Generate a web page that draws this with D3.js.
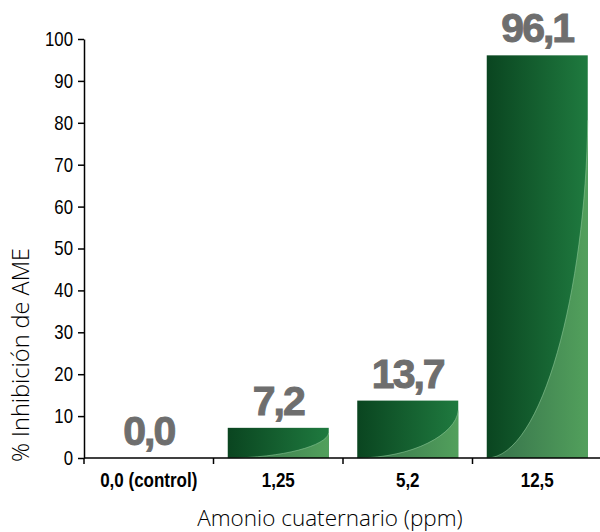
<!DOCTYPE html>
<html>
<head>
<meta charset="utf-8">
<script src="https://cdnjs.cloudflare.com/ajax/libs/d3/7.8.5/d3.min.js"></script>
<style>
  body { margin: 0; background: #fff; }
  svg { display: block; }
</style>
</head>
<body>
<div id="chart"></div>
<script>
var categories = ["0,0 (control)", "1,25", "5,2", "12,5"];
var values = [0.0, 7.2, 13.7, 96.1];
var valueLabels = ["0,0", "7,2", "13,7", "96,1"];
var yTicks = [0, 10, 20, 30, 40, 50, 60, 70, 80, 90, 100];

var svgWidth = 600;
var svgHeight = 532;

var svg = d3.select("#chart")
    .append("svg")
    .attr("width", svgWidth)
    .attr("height", svgHeight);

var x = d3.scaleBand()
    .domain(categories)
    .range([84, 602])
    .paddingInner(0.22)
    .paddingOuter(0.11);

var y = d3.scaleLinear()
    .domain([0, 100])
    .range([458, 39]);

var defs = svg.append("defs");

var dark = defs.append("linearGradient")
    .attr("id", "darkGrad")
    .attr("x1", "0%").attr("x2", "100%").attr("y1", "0%").attr("y2", "0%");
dark.append("stop").attr("offset", "0%").attr("stop-color", "#0a4520");
dark.append("stop").attr("offset", "100%").attr("stop-color", "#1f7a3f");

var light = defs.append("linearGradient")
    .attr("id", "lightGrad")
    .attr("x1", "0%").attr("x2", "100%").attr("y1", "0%").attr("y2", "0%");
light.append("stop").attr("offset", "0%").attr("stop-color", "#35704a");
light.append("stop").attr("offset", "100%").attr("stop-color", "#52a05c");

// bars (the 0,0 bar has no height so it is skipped)
var barData = values.map((v, i) => ({ cat: categories[i], value: v }))
    .filter(d => d.value > 0);

var bars = svg.append("g")
    .selectAll("g")
    .data(barData)
    .enter()
    .append("g");

bars.append("rect")
    .attr("x", d => x(d.cat))
    .attr("y", d => y(d.value))
    .attr("width", x.bandwidth())
    .attr("height", d => y(0) - y(d.value))
    .attr("fill", "url(#darkGrad)");

// lighter curved area at bottom right of each bar
function curveLine(d) {
    var x0 = x(d.cat);
    var x1 = x0 + x.bandwidth();
    var y0 = y(0);
    var h = y(0) - y(d.value);
    var yEnd = h < 40 ? y(d.value) + h * 0.17 : y(d.value) + Math.min(h * 0.17, 65);
    return "M" + x0 + "," + y0 +
        " C" + (x0 + x.bandwidth() * 0.55) + "," + y0 +
        " " + (x1 - 2) + "," + (y0 - (y0 - yEnd) * 0.5) +
        " " + x1 + "," + yEnd;
}

bars.append("path")
    .attr("d", d => curveLine(d) + " L" + (x(d.cat) + x.bandwidth()) + "," + y(0) + " Z")
    .attr("fill", "url(#lightGrad)");

bars.append("path")
    .attr("d", curveLine)
    .attr("fill", "none")
    .attr("stroke", "#8fc99a")
    .attr("stroke-width", 0.8)
    .attr("opacity", 0.7);

// value labels
svg.append("g")
    .selectAll("text")
    .data(values)
    .enter()
    .append("text")
    .attr("x", (d, i) => x(categories[i]) + x.bandwidth() / 2)
    .attr("y", d => y(d) - 13)
    .attr("text-anchor", "middle")
    .style("font-family", "'Liberation Sans', Arial, sans-serif")
    .style("font-weight", "bold")
    .style("font-size", "41px")
    .style("letter-spacing", "-2px")
    .style("fill", "#6e6e6e")
    .style("stroke", "#6e6e6e")
    .style("stroke-width", "1px")
    .text((d, i) => valueLabels[i]);

// y axis
var leftAxis = d3.axisLeft(y)
    .tickValues(yTicks)
    .tickSize(6)
    .tickSizeOuter(0)
    .tickFormat(d3.format("d"));

var yAxis = svg.append("g")
    .attr("transform", "translate(84,0)")
    .call(leftAxis);

yAxis.select(".domain").attr("stroke", "#000").attr("stroke-width", 1.5);
yAxis.selectAll(".tick line").attr("stroke", "#000").attr("stroke-width", 1.5);
yAxis.selectAll(".tick text")
    .attr("x", 0)
    .attr("transform", "translate(-11,0) scale(0.84,1)")
    .style("font-family", "'Liberation Sans', Arial, sans-serif")
    .style("font-size", "20px")
    .style("fill", "#000");

// x axis
var step = x.step();
svg.append("line")
    .attr("x1", 84).attr("x2", 600)
    .attr("y1", y(0)).attr("y2", y(0))
    .attr("stroke", "#000").attr("stroke-width", 1.5);

svg.append("g")
    .selectAll("line")
    .data(categories)
    .enter()
    .append("line")
    .attr("x1", d => x(d) - step * 0.11)
    .attr("x2", d => x(d) - step * 0.11)
    .attr("y1", y(0))
    .attr("y2", y(0) + 6)
    .attr("stroke", "#000")
    .attr("stroke-width", 1.5);

svg.append("g")
    .selectAll("text")
    .data(categories)
    .enter()
    .append("text")
    .attr("transform", d => "translate(" + (x(d) - step * 0.11 + step / 2) + ",487) scale(0.85,1)")
    .attr("text-anchor", "middle")
    .style("font-family", "'Liberation Sans', Arial, sans-serif")
    .style("font-weight", "bold")
    .style("font-size", "20px")
    .style("fill", "#000")
    .text(d => d);

// axis titles
svg.append("text")
    .attr("x", 330)
    .attr("y", 526)
    .attr("text-anchor", "middle")
    .style("font-family", "'Open Sans', 'Liberation Sans', sans-serif")
    .style("font-weight", "300")
    .style("font-size", "22.5px")
    .style("fill", "#000")
    .text("Amonio cuaternario (ppm)");

svg.append("text")
    .attr("transform", "translate(29,355) rotate(-90)")
    .attr("text-anchor", "middle")
    .style("font-family", "'Open Sans', 'Liberation Sans', sans-serif")
    .style("font-weight", "300")
    .style("font-size", "23.5px")
    .style("fill", "#000")
    .text("% Inhibición de AME");
</script>
</body>
</html>
